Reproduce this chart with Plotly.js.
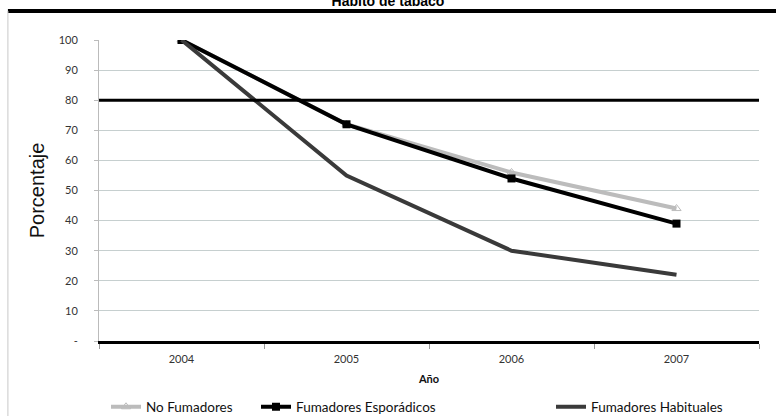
<!DOCTYPE html>
<html>
<head>
<meta charset="utf-8">
<script src="https://cdn.plot.ly/plotly-3.0.1.min.js"></script>
<style>html,body{margin:0;padding:0;background:#fff;}#chart{width:776px;height:416px;}</style>
</head>
<body>
<div id="chart"></div>
<script>
const years = ['2004', '2005', '2006', '2007'];
const noFumadores = [100, 72, 56, 44];
const fumadoresEsporadicos = [100, 72, 54, 39];
const fumadoresHabituales = [100, 55, 30, 22];
const yTickVals = [0, 10, 20, 30, 40, 50, 60, 70, 80, 90, 100];
const yTickText = ['-', '10', '20', '30', '40', '50', '60', '70', '80', '90', '100'];
const referenceLevel = 80;

const tickFont = {family: 'Lato, "Open Sans", sans-serif', size: 11, color: '#333'};

const traces = [
  {x: years, y: noFumadores, name: 'No Fumadores', type: 'scatter', mode: 'lines+markers',
   line: {color: '#bcbcbc', width: 4}, marker: {symbol: 'triangle-up-open', size: 8, color: '#bcbcbc'},
   legend: 'legend'},
  {x: years, y: fumadoresEsporadicos, name: 'Fumadores Esporádicos', type: 'scatter', mode: 'lines+markers',
   line: {color: '#000', width: 4}, marker: {symbol: 'square', size: 8, color: '#000'},
   legend: 'legend2'},
  {x: years, y: fumadoresHabituales, name: 'Fumadores Habituales', type: 'scatter', mode: 'lines',
   line: {color: '#3a3a3a', width: 4},
   legend: 'legend3'}
];

const legFont = {family: 'Lato, "Open Sans", sans-serif', size: 13.5, color: '#111'};
const legBase = {orientation: 'h', font: legFont, yref: 'container', xref: 'container', yanchor: 'middle', xanchor: 'left',
                 itemwidth: 30, bgcolor: 'rgba(0,0,0,0)', tracegroupgap: 0, y: (416 - 407) / 416};

const layout = {
  width: 776, height: 416,
  margin: {l: 99, r: 17, t: 40, b: 75, autoexpand: false},
  paper_bgcolor: '#fff', plot_bgcolor: '#fff',
  title: {text: '<b>Hábito de tabaco</b>', font: {family: 'Liberation Sans, Arial, sans-serif', size: 14, color: '#000'},
          x: 0.5, xref: 'container', y: 0.998, yref: 'container', yanchor: 'middle'},
  xaxis: {type: 'category', tickson: 'boundaries', ticks: 'outside', ticklen: 5, tickcolor: '#999',
          showgrid: false, showline: true, linecolor: '#000', linewidth: 3, zeroline: false,
          tickfont: tickFont, ticklabelstandoff: 6, range: [-0.5, 3.5],
          title: {text: '<b>Año</b>', font: {family: 'Lato, "Open Sans", sans-serif', size: 11, color: '#111'}, standoff: 12}},
  yaxis: {range: [0, 100], tickvals: yTickVals, ticktext: yTickText, ticks: 'outside', ticklen: 4, tickcolor: '#bbb',
          showgrid: true, gridcolor: '#c6cfcf', gridwidth: 1, showline: true, linecolor: '#bbb', linewidth: 1,
          zeroline: false, tickfont: tickFont, ticklabelstandoff: 14,
          title: {text: 'Porcentaje', font: {family: 'Liberation Sans, Arial, sans-serif', size: 20, color: '#111'}, standoff: 8}},
  legend: Object.assign({}, legBase, {x: 106 / 776}),
  legend2: Object.assign({}, legBase, {x: 256 / 776}),
  legend3: Object.assign({}, legBase, {x: 551 / 776}),
  shapes: [
    {type: 'line', xref: 'paper', yref: 'y', x0: 0, x1: 1, y0: referenceLevel, y1: referenceLevel,
     line: {color: '#000', width: 3}, layer: 'above'},
    {type: 'line', xref: 'paper', yref: 'paper', x0: -0.138, x1: 1.03, y0: 1.0963, y1: 1.0963,
     line: {color: '#000', width: 4}},
    {type: 'line', xref: 'paper', yref: 'paper', x0: -0.138, x1: -0.138, y0: 1.0963, y1: -0.26,
     line: {color: '#c8c8c8', width: 1}}
  ],
  showlegend: true
};

Plotly.newPlot('chart', traces, layout, {displayModeBar: false, staticPlot: true});
</script>
</body>
</html>
